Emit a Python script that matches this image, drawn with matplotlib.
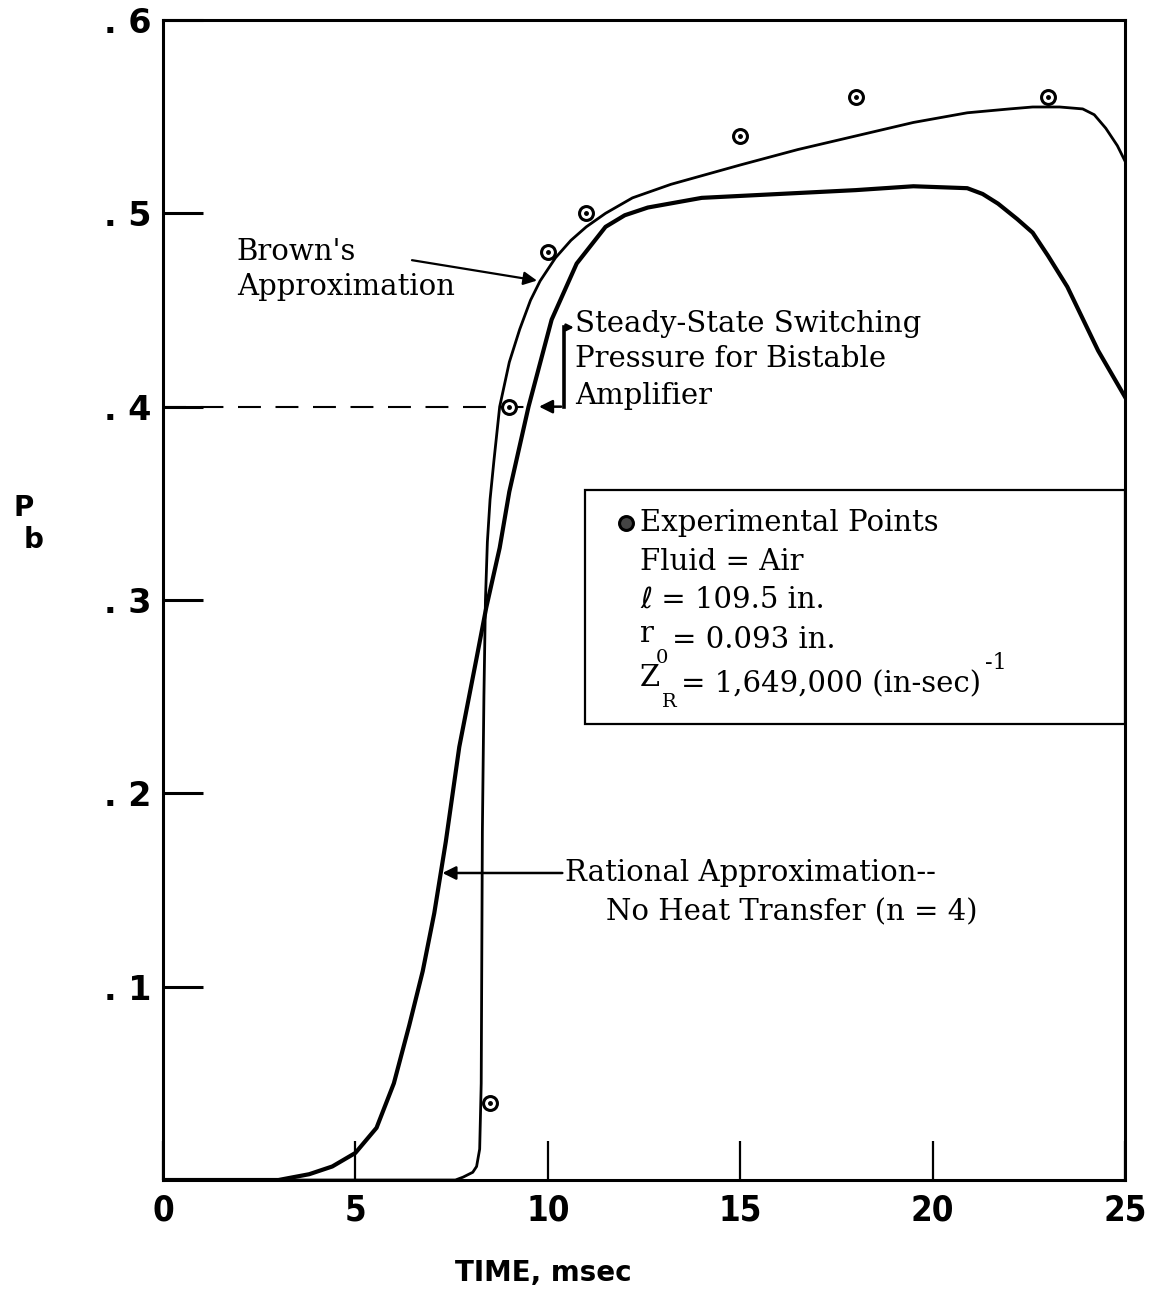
import matplotlib
matplotlib.use("Agg")
import matplotlib.pyplot as plt
from matplotlib.patches import Rectangle

# Brown's approximation (thin curve)
brown_t = [0, 7.6, 7.8, 8.05, 8.15, 8.23, 8.27, 8.3, 8.34, 8.38, 8.43, 8.5, 8.6, 8.75,
           9.0, 9.27, 9.55, 9.8, 10.2, 10.6, 11.0, 11.5, 12.2, 13.2, 15, 16.5, 18, 19.5,
           20.9, 22.0, 22.6, 23.3, 23.9, 24.2, 24.5, 24.8, 25]
brown_p = [0, 0, 0.0015, 0.004, 0.007, 0.016, 0.05, 0.18, 0.25, 0.30, 0.33, 0.352, 0.372, 0.40,
           0.423, 0.44, 0.455, 0.465, 0.477, 0.486, 0.493, 0.50, 0.508, 0.515, 0.525, 0.533, 0.54,
           0.547, 0.552, 0.554, 0.555, 0.555, 0.554, 0.551, 0.544, 0.535, 0.527]

# Rational approximation, no heat transfer, n = 4 (thick curve)
rational_t = [0, 3.0, 3.8, 4.4, 5.0, 5.55, 6.0, 6.4, 6.75, 7.05, 7.35, 7.7, 8.15, 8.4,
              8.75, 9.0, 9.5, 10.1, 10.75, 11.5, 12.0, 12.6, 14, 16, 18, 19.5, 20.9,
              21.3, 21.7, 22.2, 22.6, 23.0, 23.5, 24.3, 25]
rational_p = [0, 0, 0.003, 0.007, 0.014, 0.027, 0.05, 0.08, 0.108, 0.138, 0.175, 0.224, 0.27, 0.296,
              0.327, 0.356, 0.40, 0.445, 0.474, 0.493, 0.499, 0.503, 0.508, 0.510, 0.512, 0.514, 0.513,
              0.510, 0.505, 0.497, 0.49, 0.478, 0.462, 0.429, 0.405]

# experimental points
exp_t = [8.5, 9.0, 10.0, 11.0, 15.0, 18.0, 23.0]
exp_p = [0.04, 0.40, 0.48, 0.50, 0.54, 0.56, 0.56]

switch_p = 0.40

x_ticks = [0, 5, 10, 15, 20, 25]
x_labels = ["0", "5", "10", "15", "20", "25"]
y_ticks = [0.1, 0.2, 0.3, 0.4, 0.5, 0.6]
y_labels = [". 1", ". 2", ". 3", ". 4", ". 5", ". 6"]

serif = ["DejaVu Serif", "DejaVu Sans"]
fs = 21
sub_fs = 14
heavy = dict(family="DejaVu Sans", weight="bold")

fig = plt.figure(figsize=(11.59, 12.98), dpi=100)
ax = fig.add_axes([0.1406, 0.0909, 0.8301, 0.8937])

ax.plot(brown_t, brown_p, color="k", lw=2.0, solid_joinstyle="round", zorder=3)
ax.plot(rational_t, rational_p, color="k", lw=3.0, solid_joinstyle="round", zorder=3)

ax.plot(exp_t, exp_p, "o", ms=10, mfc="white", mec="k", mew=2.2, zorder=4)
ax.plot(exp_t, exp_p, "o", ms=2.5, color="k", zorder=5)

# steady-state switching pressure
ax.plot([0, 9.75], [switch_p, switch_p], color="k", lw=1.5, ls=(0, (11, 7)))
ax.annotate("", xy=(9.7, switch_p), xytext=(10.42, switch_p),
            arrowprops=dict(arrowstyle="-|>", color="k", lw=1.8, mutation_scale=20))
ax.plot([10.42, 10.42], [switch_p, 0.441], color="k", lw=2.6)
ax.annotate("", xy=(10.75, 0.441), xytext=(10.38, 0.441),
            arrowprops=dict(arrowstyle="-|>", color="k", lw=1.8, mutation_scale=10))
ax.text(10.71, 0.443, "Steady-State Switching", family=serif, fontsize=fs, va="center")
ax.text(10.71, 0.4247, "Pressure for Bistable", family=serif, fontsize=fs, va="center")
ax.text(10.71, 0.4055, "Amplifier", family=serif, fontsize=fs, va="center")

# Brown's label
ax.text(1.92, 0.480, "Brown's", family=serif, fontsize=fs, va="center")
ax.text(1.92, 0.462, "Approximation", family=serif, fontsize=fs, va="center")
ax.annotate("", xy=(9.79, 0.465), xytext=(6.4, 0.476),
            arrowprops=dict(arrowstyle="-|>", color="k", lw=1.6, mutation_scale=20))

# rational label
ax.annotate("", xy=(7.19, 0.1588), xytext=(10.45, 0.1588),
            arrowprops=dict(arrowstyle="-|>", color="k", lw=1.8, mutation_scale=20))
ax.text(10.45, 0.1588, "Rational Approximation--", family=serif, fontsize=fs, va="center")
ax.text(11.51, 0.1386, "No Heat Transfer (n = 4)", family=serif, fontsize=fs, va="center")

# parameter box
ax.add_patch(Rectangle((10.96, 0.2357), 25 - 10.96, 0.3569 - 0.2357,
                       fill=False, ec="k", lw=1.6, zorder=2))
ax.plot([12.03], [0.3398], "o", ms=10, mfc="#444444", mec="k", mew=2.2)
ax.text(12.40, 0.3398, "Experimental Points", family=serif, fontsize=fs, va="center")
ax.text(12.40, 0.3197, "Fluid = Air", family=serif, fontsize=fs, va="center")
ax.text(12.40, 0.3000, "\u2113 = 109.5 in.", family=serif, fontsize=fs, va="center")

t_r = ax.text(12.40, 0.2783, "r", family=serif, fontsize=fs, va="baseline")
t_0 = ax.annotate("0", xy=(1, 0), xycoords=t_r, xytext=(1, -1), textcoords="offset points",
                  family=serif, fontsize=sub_fs, va="top", ha="left")
ax.annotate("= 0.093 in.", xy=(1, 0), xycoords=(t_0, t_r), xytext=(3, 0),
            textcoords="offset points", family=serif, fontsize=fs, va="baseline", ha="left")

t_z = ax.text(12.40, 0.2555, "Z", family=serif, fontsize=fs, va="baseline")
t_R = ax.annotate("R", xy=(1, 0), xycoords=t_z, xytext=(1, -1), textcoords="offset points",
                  family=serif, fontsize=sub_fs, va="top", ha="left")
t_val = ax.annotate("= 1,649,000 (in-sec)", xy=(1, 0), xycoords=(t_R, t_z), xytext=(3, 0),
                    textcoords="offset points", family=serif, fontsize=fs, va="baseline",
                    ha="left")
ax.annotate("-1", xy=(1, 1), xycoords=t_val, xytext=(3, -3), textcoords="offset points",
            family=serif, fontsize=sub_fs + 2, va="bottom", ha="left")

ax.set_xlim(0, 25)
ax.set_ylim(0, 0.6)
ax.set_xticks(x_ticks)
ax.set_xticklabels(x_labels, fontsize=25, stretch="condensed", **heavy)
ax.set_yticks(y_ticks)
ax.set_yticklabels(y_labels, fontsize=24, **heavy)
ax.tick_params(axis="x", direction="in", length=28, width=1.6, pad=10)
ax.tick_params(axis="y", direction="in", length=29, width=2.2, pad=8)
for s in ax.spines.values():
    s.set_linewidth(2.2)

fig.text(543 / 1159, 1 - 1273 / 1298, "TIME, msec", ha="center", va="center",
         fontsize=20, **heavy)
fig.text(14 / 1159, 1 - 508 / 1298, "P", ha="left", va="center", fontsize=20, **heavy)
fig.text(24 / 1159, 1 - 540 / 1298, "b", ha="left", va="center", fontsize=20, **heavy)

fig.savefig("out.png", dpi=100)
